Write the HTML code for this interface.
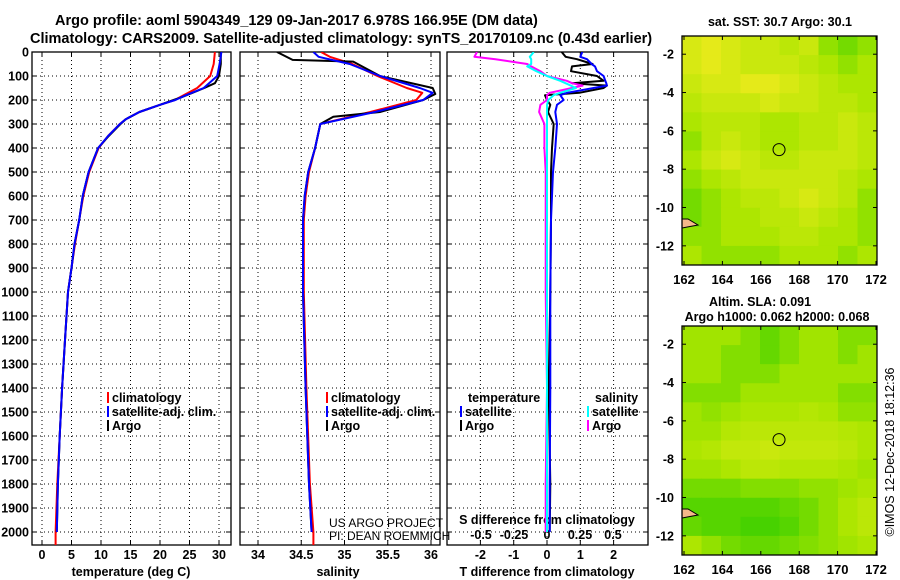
<!DOCTYPE html>
<html><head><meta charset="utf-8"><style>
html,body{margin:0;padding:0;background:#fff;}
svg{display:block;font-family:"Liberation Sans",sans-serif;}
.b{fill:#000;}
</style></head><body>
<svg id="chart" width="900" height="580" viewBox="0 0 900 580" xmlns="http://www.w3.org/2000/svg"></svg>
<script>
// ---------- data ----------
const depthTicks=[0,100,200,300,400,500,600,700,800,900,1000,1100,1200,1300,1400,1500,1600,1700,1800,1900,2000];
const tempTicks=[0,5,10,15,20,25,30];
const salTicks=[34,34.5,35,35.5,36];
const salTickLabels=["34","34.5","35","35.5","36"];
const tdiffTicks=[-2,-1,0,1,2];
const sdiffTicks=[-0.5,-0.25,0,0.25,0.5];
const sdiffTickLabels=["-0.5","-0.25","0","0.25","0.5"];

const tArgoDepth=[0,50,100,130,150,170,190,200,220,250,280,300,350,400,500,600,700,800,900,1000,1200,1400,1600,1800,2000];
const tArgo=[30.3,30.3,30.0,29.3,27.5,25.5,23.5,22.3,20,16.5,14.2,13.3,11.3,9.5,7.9,6.9,6.3,5.5,5.0,4.4,3.9,3.4,3.0,2.7,2.5];
const tClimDepth=[0,50,100,150,180,200,220,250,280,300,350,400,500,600,700,800,900,1000,1200,1400,1600,1800,2000,2054];
const tClim=[29.3,29.1,28.5,26.3,24,22.5,20,16.5,14.2,13.2,11.2,9.6,8.0,7.0,6.3,5.6,5.0,4.4,3.9,3.4,3.0,2.6,2.3,2.3];
const tSatDepth=[0,50,100,150,180,200,220,250,280,300,350,400,500,600,700,800,900,1000,1200,1400,1600,1800,2000];
const tSat=[30.4,30.1,29.7,27.4,24.4,22.6,20,16.5,14.2,13.2,11.2,9.5,7.9,6.9,6.3,5.5,5.0,4.4,3.9,3.4,3.0,2.7,2.5];

const sArgoDepth=[0,33,40,100,150,175,200,250,270,300,400,500,600,700,1000,1400,1800,2000];
const sArgo=[34.22,34.40,35.10,35.41,36.02,36.05,35.91,35.41,34.87,34.72,34.66,34.58,34.54,34.52,34.52,34.55,34.59,34.62];
const sClimDepth=[0,20,50,100,150,170,200,250,300,400,500,600,700,1000,1400,1800,2000,2054];
const sClim=[34.73,34.83,35.09,35.38,35.72,35.90,35.83,35.30,34.72,34.66,34.59,34.55,34.53,34.53,34.56,34.60,34.64,34.64];
const sSatDepth=[0,20,50,100,150,170,200,250,300,400,500,600,700,1000,1400,1800,2000];
const sSat=[34.64,34.70,35.06,35.41,35.87,36.02,35.91,35.35,34.72,34.66,34.58,34.54,34.52,34.52,34.55,34.59,34.62];

const dDepth=[0,20,30,50,60,80,100,120,130,140,150,170,180,200,220,250,300,400,500,700,1000,1400,1800,2000];
const tdArgoClim=[0.44,0.56,0.9,1.37,0.75,0.72,1.5,1.7,0.75,1.8,1.7,0.97,-0.06,0.0,0.1,0.03,0.2,0.15,0.12,0.12,0.1,0.05,0.1,0.08];
const tdArgoSat=[1.06,1.0,1.2,1.34,1.44,1.5,1.7,1.75,1.78,1.8,1.4,0.6,0.4,0.5,0.3,0.25,0.3,0.25,0.18,0.12,0.1,0.1,0.08,0.08];
const sdArgoClim=[-0.53,-0.55,-0.39,-0.15,-0.12,-0.05,0.0,0.15,0.19,0.27,0.19,0.02,0.0,0.0,-0.05,-0.06,-0.02,-0.02,-0.01,-0.01,-0.01,0.0,-0.01,-0.01];
const sdArgoSat=[-0.1,-0.13,-0.12,-0.12,-0.15,-0.08,0.0,0.1,0.14,0.18,0.22,0.1,0.05,0.01,0.0,0.0,0.0,0.0,0.0,0.0,0.0,0.0,0.0,0.0];

const lonTicks=[162,164,166,168,170,172];
const latTicks=[-2,-4,-6,-8,-10,-12];
const argoLon=166.95, argoLat=-6.978;
const sstGrid=[
[0.7,0.8,0.7,0.6,0.6,0.5,0.6,0.3,0.2,0.3],
[0.7,0.8,0.7,0.6,0.6,0.6,0.5,0.4,0.3,0.4],
[0.6,0.7,0.7,0.8,0.8,0.7,0.6,0.5,0.4,0.4],
[0.5,0.6,0.6,0.6,0.7,0.6,0.6,0.5,0.5,0.4],
[0.4,0.5,0.5,0.5,0.4,0.4,0.5,0.5,0.6,0.5],
[0.3,0.5,0.6,0.5,0.4,0.4,0.5,0.5,0.6,0.5],
[0.4,0.6,0.7,0.6,0.5,0.5,0.6,0.6,0.6,0.5],
[0.3,0.4,0.5,0.6,0.6,0.6,0.6,0.6,0.5,0.4],
[0.2,0.3,0.4,0.5,0.5,0.6,0.7,0.6,0.5,0.3],
[0.2,0.3,0.4,0.4,0.5,0.5,0.6,0.5,0.4,0.3],
[0.3,0.3,0.4,0.4,0.4,0.5,0.5,0.4,0.4,0.3],
[0.4,0.3,0.3,0.3,0.3,0.4,0.4,0.4,0.3,0.4]];
const slaGrid=[
[0.5,0.5,0.5,0.4,0.3,0.4,0.5,0.5,0.4,0.4],
[0.5,0.5,0.4,0.4,0.3,0.4,0.5,0.5,0.4,0.5],
[0.5,0.5,0.4,0.4,0.4,0.5,0.5,0.5,0.5,0.5],
[0.4,0.4,0.4,0.5,0.5,0.5,0.5,0.5,0.4,0.4],
[0.5,0.45,0.5,0.55,0.55,0.55,0.6,0.55,0.45,0.45],
[0.5,0.5,0.6,0.65,0.65,0.65,0.65,0.65,0.6,0.55],
[0.55,0.6,0.7,0.7,0.75,0.7,0.7,0.7,0.65,0.55],
[0.5,0.5,0.55,0.65,0.65,0.6,0.6,0.6,0.55,0.5],
[0.35,0.35,0.35,0.4,0.4,0.4,0.45,0.45,0.5,0.55],
[0.25,0.25,0.25,0.25,0.25,0.3,0.35,0.45,0.55,0.65],
[0.3,0.25,0.25,0.2,0.2,0.25,0.35,0.45,0.55,0.65],
[0.55,0.45,0.35,0.3,0.3,0.35,0.4,0.45,0.5,0.55]];

// ---------- geometry ----------
const NS="http://www.w3.org/2000/svg";
const svg=document.getElementById('chart');
function mk(tag,attrs,parent){const e=document.createElementNS(NS,tag);for(const k in attrs)e.setAttribute(k,attrs[k]);(parent||svg).appendChild(e);return e;}
const PT=52,PB=545;
const yD=d=>PT+d*0.24;
const xT=t=>42+5.9*t;
const xS=s=>258+86.5*(s-34);
const xTD=v=>547+33.3*v;
const xSD=v=>547+132*v;
const panels=[{x0:32,x1:231,name:'temperature-panel'},{x0:240,x1:440,name:'salinity-panel'},{x0:447,x1:648,name:'difference-panel'}];

function txt(x,y,s,opts,name){const t=mk('text',Object.assign({x:x,y:y,class:'b','font-weight':'bold','font-size':'12.5'},opts||{}));t.textContent=s;


return t;}

txt(55,25,"Argo profile: aoml 5904349_129 09-Jan-2017 6.978S 166.95E (DM data)",{'font-size':'14.5'},'title-line-1');
txt(30,43,"Climatology: CARS2009. Satellite-adjusted climatology: synTS_20170109.nc (0.43d earlier)",{'font-size':'14.5'},'title-line-2');

panels.forEach((p,i)=>{
  const g=mk('g',{});
  
  
  depthTicks.forEach(d=>{
    const l=mk('line',{x1:p.x0,x2:p.x1,y1:yD(d),y2:yD(d),stroke:'#000','stroke-width':1,'stroke-dasharray':'1,3'},g);
    
    
    mk('line',{x1:p.x0,x2:p.x0+5,y1:yD(d),y2:yD(d),stroke:'#000'},g);
    mk('line',{x1:p.x1-5,x2:p.x1,y1:yD(d),y2:yD(d),stroke:'#000'},g);
  });
  const vt = i==0?tempTicks.map(xT):i==1?salTicks.map(xS):tdiffTicks.map(xTD);
  vt.forEach(x=>{
    const l=mk('line',{x1:x,x2:x,y1:PT,y2:PB,stroke:'#000','stroke-dasharray':'1,3'},g);
    
    
    mk('line',{x1:x,x2:x,y1:PB-5,y2:PB,stroke:'#000'},g);
    mk('line',{x1:x,x2:x,y1:PT,y2:PT+5,stroke:'#000'},g);
  });
  const r=mk('rect',{x:p.x0,y:PT,width:p.x1-p.x0,height:PB-PT,fill:'none',stroke:'#000','stroke-width':1.3},g);
  
  
});

depthTicks.forEach(d=>{txt(29,yD(d)+4.5,String(d),{'text-anchor':'end'},'depth-tick-label');});
tempTicks.forEach(t=>{txt(xT(t),559,String(t),{'text-anchor':'middle'},'temperature-tick-label');});
salTicks.forEach((s,i)=>{txt(xS(s),559,salTickLabels[i],{'text-anchor':'middle'},'salinity-tick-label');});
tdiffTicks.forEach(t=>{txt(xTD(t),559,String(t),{'text-anchor':'middle'},'tdiff-tick-label');});
sdiffTicks.forEach((s,i)=>{txt(xSD(s),539,sdiffTickLabels[i],{'text-anchor':'middle'},'sdiff-tick-label');});
txt(131,576,"temperature (deg C)",{'text-anchor':'middle'},'temperature-axis-title');
txt(338,576,"salinity",{'text-anchor':'middle'},'salinity-axis-title');
txt(547,576,"T difference from climatology",{'text-anchor':'middle'},'tdiff-axis-title');
txt(547,524,"S difference from climatology",{'text-anchor':'middle'},'sdiff-axis-title');

function clipId(i){return 'clip'+i;}
const defs=mk('defs',{});
panels.forEach((p,i)=>{const c=mk('clipPath',{id:clipId(i)},defs);mk('rect',{x:p.x0,y:PT,width:p.x1-p.x0,height:PB-PT},c);});
function series(depths,vals,xf,color,w,pi,name){
  const pts=depths.map((d,k)=>xf(vals[k]).toFixed(1)+','+yD(d).toFixed(1)).join(' ');
  const pl=mk('polyline',{points:pts,fill:'none',stroke:color,'stroke-width':w,'clip-path':'url(#'+clipId(pi)+')','stroke-linejoin':'round'});
  
  
}
series(tClimDepth,tClim,xT,'#f00',2,0,'temperature-climatology-line');
series(tArgoDepth,tArgo,xT,'#000',2,0,'temperature-argo-line');
series(tSatDepth,tSat,xT,'#00f',2,0,'temperature-satellite-line');
series(sClimDepth,sClim,xS,'#f00',2,1,'salinity-climatology-line');
series(sArgoDepth,sArgo,xS,'#000',2,1,'salinity-argo-line');
series(sSatDepth,sSat,xS,'#00f',2,1,'salinity-satellite-line');
series(dDepth,tdArgoClim,xTD,'#000',2,2,'tdiff-argo-line');
series(dDepth,tdArgoSat,xTD,'#00f',2,2,'tdiff-satellite-line');
series(dDepth,sdArgoClim,xSD,'#f0f',2,2,'sdiff-argo-line');
series(dDepth,sdArgoSat,xSD,'#0ff',2,2,'sdiff-satellite-line');

function leg(x,y,color,label,name){
  const r=mk('rect',{x:x,y:y-10,width:2,height:11,fill:color});
  
  
  txt(x+5,y,label,{},name);
}
leg(107,402,'#f00','climatology','legend-climatology');
leg(107,416,'#00f','satellite-adj. clim.','legend-satellite');
leg(107,430,'#000','Argo','legend-argo');
leg(326,402,'#f00','climatology','legend2-climatology');
leg(326,416,'#00f','satellite-adj. clim.','legend2-satellite');
leg(326,430,'#000','Argo','legend2-argo');
txt(468,402,'temperature',{},'legend3-temperature-heading');
leg(460,416,'#00f','satellite','legend3-t-satellite');
leg(460,430,'#000','Argo','legend3-t-argo');
txt(595,402,'salinity',{},'legend3-salinity-heading');
leg(587,416,'#0ff','satellite','legend3-s-satellite');
leg(587,430,'#f0f','Argo','legend3-s-argo');

txt(329,527,'US ARGO PROJECT',{'font-weight':'normal','font-size':'12'},'credit-project');
txt(329,540,'PI: DEAN ROEMMICH',{'font-weight':'normal','font-size':'12'},'credit-pi');

const MX0=682,MX1=877;
const lonX=l=>684+19.2*(l-162);
function colorOf(v){
  let r,g,b;
  if(v<0.5){const t=v/0.5;r=20+t*150;g=200+t*30;b=0;}
  else{const t=Math.min(1,(v-0.5)/0.5);r=170+t*70;g=230+t*5;b=t*30;}
  return 'rgb('+Math.round(r)+','+Math.round(g)+','+Math.round(b)+')';
}
function map(y0,y1,grid,name,shift){
  const latY=la=>y0+(-1.05-la)*((y1-y0)/11.95);
  const g=mk('g',{});
  
  
  const rows=grid.length,cols=grid[0].length;
  const cw=(MX1-MX0)/cols,ch=(y1-y0)/rows;
  grid.forEach((row,ri)=>row.forEach((v,ci)=>{
    const c=mk('rect',{x:MX0+ci*cw,y:y0+ri*ch,width:cw+0.5,height:ch+0.5,fill:colorOf(v+shift)},g);
    
    
  }));
  mk('path',{d:'M'+MX0+','+(latY(-10.6))+' l6,0 l10,6 l-16,3 z',fill:'#f4b88a',stroke:'#000','stroke-width':1},g);
  const ci=mk('circle',{cx:lonX(argoLon),cy:latY(argoLat),r:6,fill:'none',stroke:'#000','stroke-width':1},g);
  
  
  mk('rect',{x:MX0,y:y0,width:MX1-MX0,height:y1-y0,fill:'none',stroke:'#000','stroke-width':1.3},g);
  latTicks.forEach(la=>{const y=latY(la);mk('line',{x1:MX0,x2:MX0+4,y1:y,y2:y,stroke:'#000'},g);mk('line',{x1:MX1-4,x2:MX1,y1:y,y2:y,stroke:'#000'},g);
    txt(674,y+4.5,String(la),{'text-anchor':'end'},'map-lat-label');});
  lonTicks.forEach(lo=>{const x=lonX(lo);mk('line',{x1:x,x2:x,y1:y1-4,y2:y1,stroke:'#000'},g);mk('line',{x1:x,x2:x,y1:y0,y2:y0+4,stroke:'#000'},g);
    txt(x,y1+19,String(lo),{'text-anchor':'middle','font-size':'13'},'map-lon-label');});
}
map(36,265,sstGrid,'sst-map',0.12);
map(326,555,slaGrid,'sla-map',-0.03);
txt(780,26,'sat. SST: 30.7 Argo: 30.1',{'text-anchor':'middle'},'sst-map-title');
txt(760,306,'Altim. SLA: 0.091',{'text-anchor':'middle'},'sla-map-title');
txt(777,321,'Argo h1000: 0.062 h2000: 0.068',{'text-anchor':'middle'},'sla-map-subtitle');
txt(0,0,'©IMOS 12-Dec-2018 18:12:36',{'text-anchor':'middle','font-weight':'normal','font-size':'12.5',transform:'translate(894,452) rotate(-90)'},'imos-timestamp');
</script>
</body></html>
